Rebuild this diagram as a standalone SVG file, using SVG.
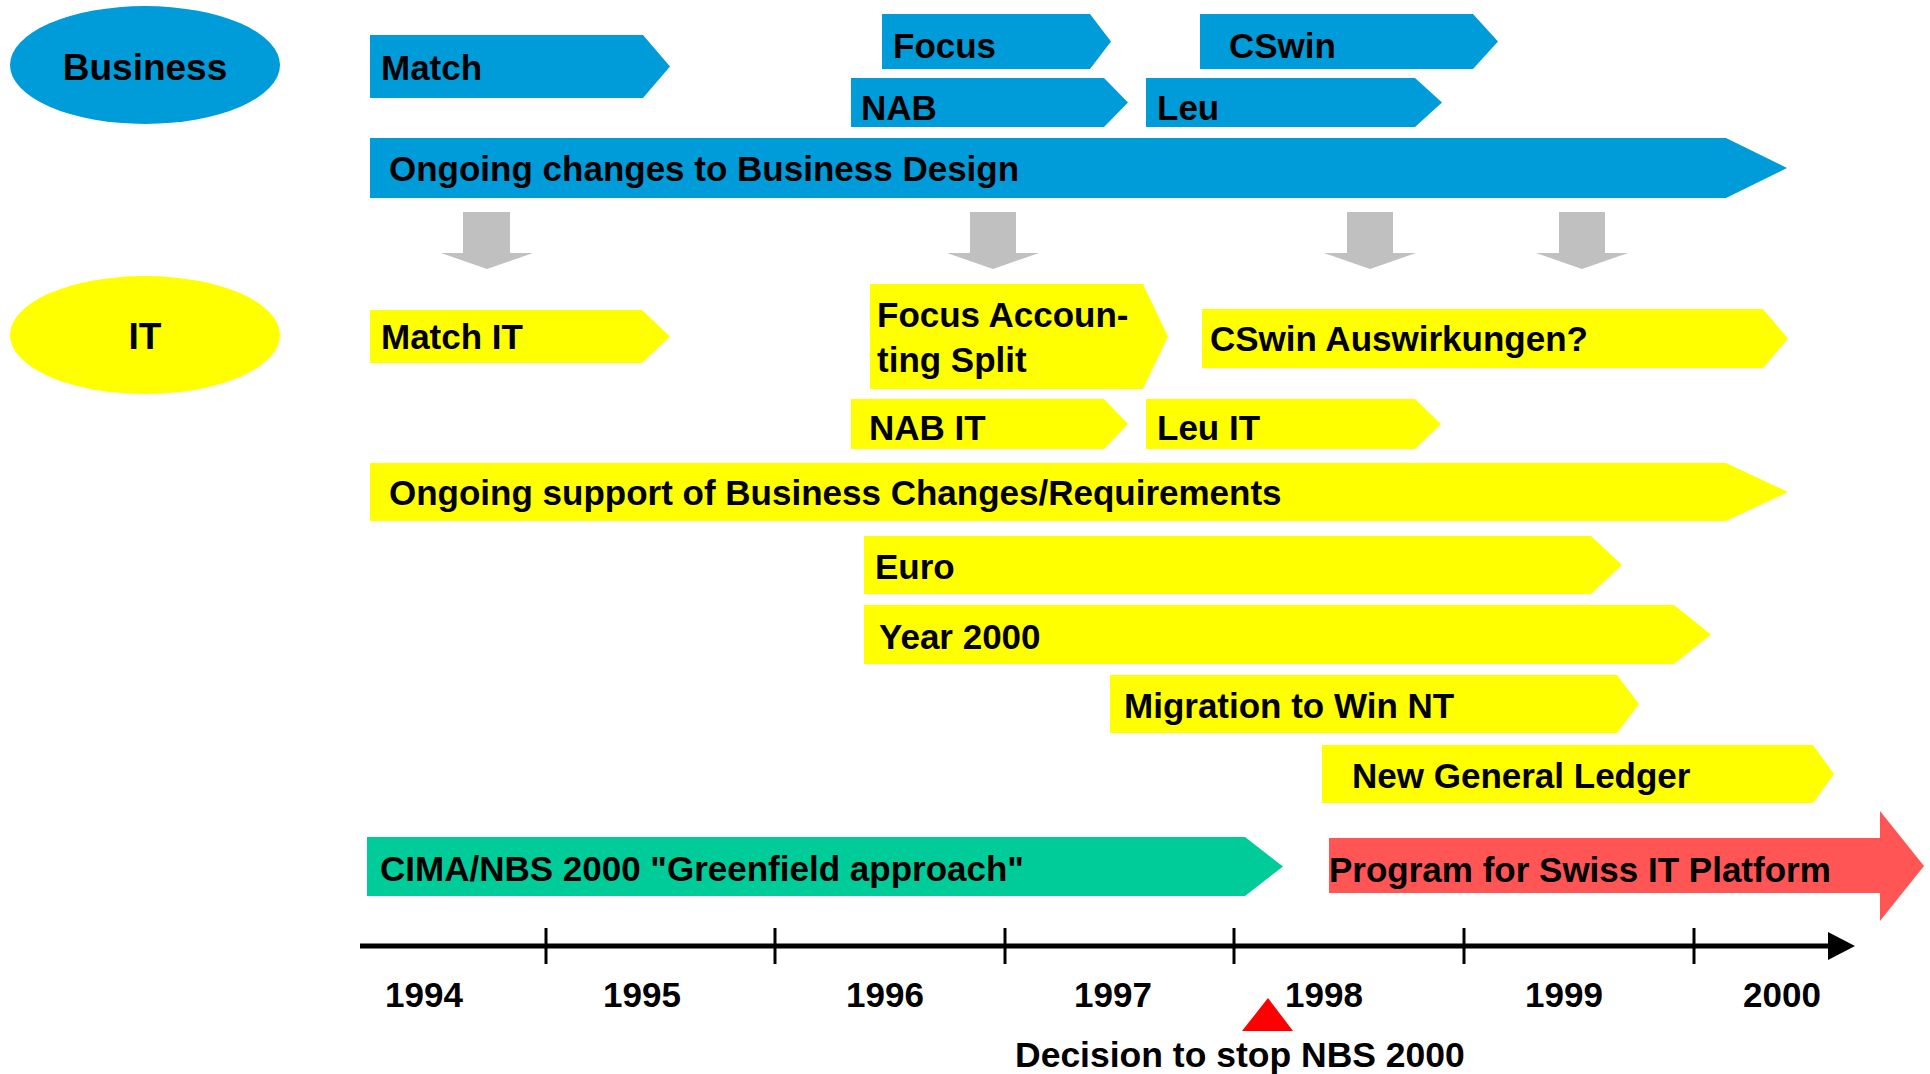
<svg xmlns="http://www.w3.org/2000/svg" width="1930" height="1074" viewBox="0 0 1930 1074">
<style>
.b{fill:#009BD9}
.y{fill:#FFFF00}
.g{fill:#C0C0C0}
.t{font-family:"Liberation Sans",Arial,sans-serif;font-weight:bold;font-size:35px;fill:#000}
.m{text-anchor:middle}
</style>
<rect width="1930" height="1074" fill="#fff"/>
<g id="business">
<ellipse class="b" cx="145" cy="65" rx="135" ry="59"/>
<text class="t m" x="145" y="80" style="font-size:37px">Business</text>
</g>
<g id="it">
<ellipse class="y" cx="145" cy="335" rx="135" ry="59"/>
<text class="t m" x="145" y="349" style="font-size:37px">IT</text>
</g>
<g id="match"><polygon class="b" points="370,35 643,35 670,66.5 643,98 370,98"/><text class="t" x="381" y="80">Match</text></g>
<g id="focus"><polygon class="b" points="882,14 1090,14 1111,41.5 1090,69 882,69"/><text class="t" x="893" y="58">Focus</text></g>
<g id="cswin"><polygon class="b" points="1200,14 1473,14 1498,41.5 1473,69 1200,69"/><text class="t" x="1229" y="58">CSwin</text></g>
<g id="nab"><polygon class="b" points="851,78 1104,78 1128,102.5 1104,127 851,127"/><text class="t" x="861" y="120">NAB</text></g>
<g id="leu"><polygon class="b" points="1146,78 1415,78 1442,102.5 1415,127 1146,127"/><text class="t" x="1157" y="120">Leu</text></g>
<g id="ongoing-business"><polygon class="b" points="370,138 1726,138 1787,168 1726,198 370,198"/><text class="t" x="389" y="181">Ongoing changes to Business Design</text></g>
<g id="connectors">
<polygon class="g" points="463,212 510,212 510,253 533,253 487,269 441,253 463,253"/>
<polygon class="g" points="970,212 1016,212 1016,253 1039,253 993,269 947,253 970,253"/>
<polygon class="g" points="1347,212 1393,212 1393,253 1416,253 1370,269 1324,253 1347,253"/>
<polygon class="g" points="1559,212 1605,212 1605,253 1628,253 1582,269 1536,253 1559,253"/>
</g>
<g id="match-it"><polygon class="y" points="370,310 642,310 670,336.5 642,363 370,363"/><text class="t" x="381" y="349">Match IT</text></g>
<g id="focus-acc"><polygon class="y" points="870,284 1143,284 1168,336.5 1143,389 870,389"/><text class="t" x="877" y="327">Focus Accoun-</text><text class="t" x="877" y="372">ting Split</text></g>
<g id="cswin-ausw"><polygon class="y" points="1202,309 1763,309 1788,338.5 1763,368 1202,368"/><text class="t" x="1210" y="351">CSwin Auswirkungen?</text></g>
<g id="nab-it"><polygon class="y" points="851,399 1104,399 1128,424 1104,449 851,449"/><text class="t" x="869" y="440">NAB IT</text></g>
<g id="leu-it"><polygon class="y" points="1146,399 1415,399 1441,424 1415,449 1146,449"/><text class="t" x="1157" y="440">Leu IT</text></g>
<g id="ongoing-it"><polygon class="y" points="370,463 1726,463 1788,492 1726,521 370,521"/><text class="t" x="389" y="505">Ongoing support of Business Changes/Requirements</text></g>
<g id="euro"><polygon class="y" points="864,536 1591,536 1622,565 1591,594 864,594"/><text class="t" x="875" y="579">Euro</text></g>
<g id="y2k"><polygon class="y" points="864,605 1674,605 1711,634.5 1674,664 864,664"/><text class="t" x="879" y="649">Year 2000</text></g>
<g id="migration"><polygon class="y" points="1110,675 1617,675 1639,704 1617,733 1110,733"/><text class="t" x="1124" y="718">Migration to Win NT</text></g>
<g id="ngl"><polygon class="y" points="1322,745 1813,745 1834,774 1813,803 1322,803"/><text class="t" x="1352" y="788">New General Ledger</text></g>
<g id="cima"><polygon fill="#00CC99" points="367,837 1245,837 1283,866.5 1245,896 367,896"/><text class="t" x="380" y="881">CIMA/NBS 2000 "Greenfield approach"</text></g>
<g id="program"><polygon fill="#FF5555" points="1329,838 1880,838 1880,811 1924,866 1880,921 1880,893 1329,893"/><text class="t" x="1329" y="882">Program for Swiss IT Platform</text></g>
<g id="timeline">
<line x1="360" y1="946" x2="1830" y2="946" stroke="#000" stroke-width="5"/>
<polygon points="1828,932 1855,946 1828,960" fill="#000"/>
<g stroke="#000" stroke-width="3">
<line x1="546" y1="928" x2="546" y2="964"/>
<line x1="775" y1="928" x2="775" y2="964"/>
<line x1="1005" y1="928" x2="1005" y2="964"/>
<line x1="1234" y1="928" x2="1234" y2="964"/>
<line x1="1464" y1="928" x2="1464" y2="964"/>
<line x1="1694" y1="928" x2="1694" y2="964"/>
</g>
<text class="t" x="385" y="1007">1994</text>
<text class="t" x="603" y="1007">1995</text>
<text class="t" x="846" y="1007">1996</text>
<text class="t" x="1074" y="1007">1997</text>
<text class="t" x="1285" y="1007">1998</text>
<text class="t" x="1525" y="1007">1999</text>
<text class="t" x="1743" y="1007">2000</text>
</g>
<g id="decision">
<polygon points="1242,1031 1293,1031 1268,998" fill="#FF0000"/>
<text class="t" x="1015" y="1067" style="font-size:35.5px">Decision to stop NBS 2000</text>
</g>
</svg>
